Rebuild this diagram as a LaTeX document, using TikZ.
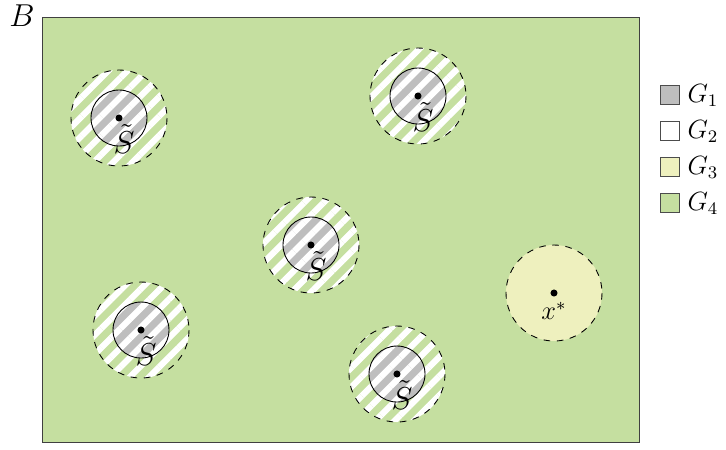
\documentclass[tikz,border=0pt]{standalone}
\usetikzlibrary{patterns.meta,positioning}
\definecolor{regiongreen}{RGB}{197,223,160}
\definecolor{regionyellow}{RGB}{238,240,190}
\definecolor{regiongray}{RGB}{190,190,190}
\begin{document}
\begin{tikzpicture}[x=0.4545pt,y=-0.4545pt]
	% Styles
	\tikzset{
		stripes/.style={pattern={Lines[angle=45,distance=6.2pt,line width=2.8pt]},pattern color=white},
		halo/.style={draw,dashed,preaction={fill=regiongreen},preaction={stripes}},
		core/.style={draw,preaction={fill=regiongray},preaction={stripes}},
		dot/.style={circle,fill=black,inner sep=0pt,minimum size=3.2pt},
		key/.style={draw=black!70,minimum size=8.5pt,inner sep=0pt},
	}
	\useasboundingbox (0,0) rectangle (726,449);

	% Domain B
	\draw[draw=black!75,fill=regiongreen] (42,17) rectangle (639,442);
	\node[font=\Large] (B) at (22,16) {$B$};

	% Neighbourhoods of the sampled points
	\foreach \name/\x/\y in {s1/119/118, s2/418/96, s3/311/245, s4/141/330, s5/397/374}{
		\draw[halo] (\x,\y) circle (48);
		\draw[core] (\x,\y) circle (28);
		\node[dot] (\name) at (\x,\y) {};
		\node[font=\Large,inner sep=0pt,below=1pt of \name,xshift=2.3pt] {$\tilde{S}$};
	}

	% Optimum
	\draw[dashed,fill=regionyellow] (554,293) circle (48);
	\node[dot] (opt) at (554,293) {};
	\node[font=\large,inner sep=0pt,below=2pt of opt] (optlabel) {$x^*$};

	% Legend
	\foreach \name/\col/\y in {g1/regiongray/1, g2/white/2, g3/regionyellow/3, g4/regiongreen/4}{
		\node[key,fill=\col] (\name) at (670,59+36*\y) {};
		\node[font=\large,right=0pt of \name] {$G_{\y}$};
	}
\end{tikzpicture}
\end{document}
